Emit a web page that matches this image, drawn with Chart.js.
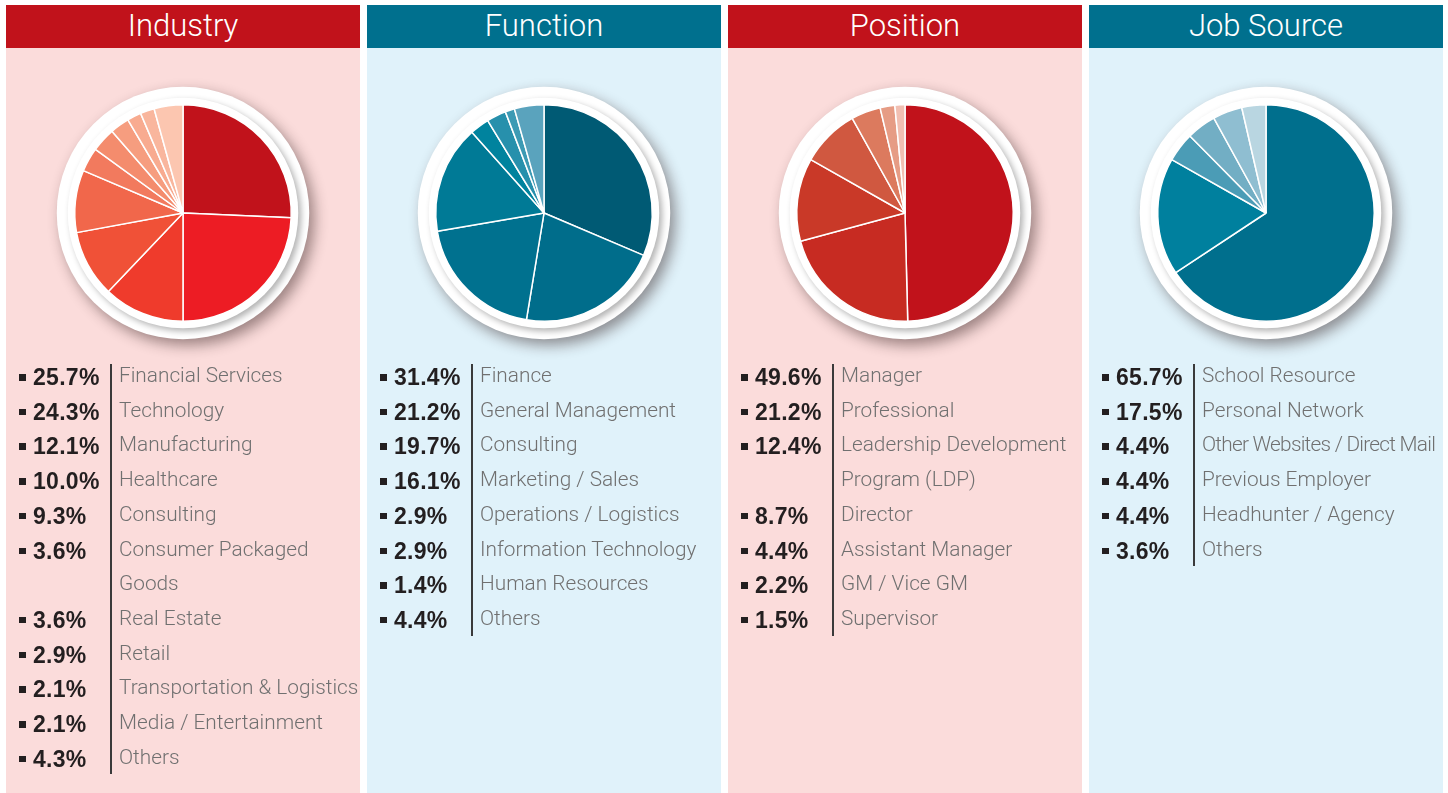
<!DOCTYPE html>
<html>
<head>
<meta charset="utf-8">
<script src="https://cdn.jsdelivr.net/npm/chart.js@4.4.0/dist/chart.umd.min.js"></script>
<style>
  body{margin:0;background:#fff;width:1448px;height:793px;overflow:hidden;font-family:"Liberation Sans",Arial,sans-serif}
  .panel{position:absolute;top:5px;width:354px;height:788px}
  .head{height:43px;line-height:42px;color:#fff;text-align:center;font-family:Roboto,"Liberation Sans",sans-serif;font-weight:300;font-size:31px}
  .body{position:absolute;top:43px;left:0;right:0;bottom:0}
  .body canvas{position:absolute;left:0;top:0}
  .list{position:absolute;top:310px;left:0;right:0}
  .list .rule{position:absolute;left:104px;top:6px;bottom:0;width:1.5px;background:#3a3a3a}
  .row{display:flex;line-height:34.7px}
  .pct{position:relative;width:104px;flex:none;box-sizing:border-box;padding-left:27px;font-weight:bold;font-size:23px;letter-spacing:0.3px;color:#231f20;top:2px}
  .pct::before{content:"";position:absolute;left:13px;top:14px;width:6.5px;height:6.5px;background:#231f20}
  .lab{padding-left:9px;font-family:Roboto,"Liberation Sans",sans-serif;font-weight:300;font-size:20.8px;color:#707070;max-width:250px;box-sizing:border-box}
  .red .head{background:#c1121b}
  .red .body{background:#fbdcdb}
  .blue .head{background:#00708e}
  .blue .body{background:#e0f2fa}
</style>
</head>
<body>
<div id="wrap"></div>
<script>
//------------------------------ dữ liệu ------------------------------//
var titles = ["Industry", "Function", "Position", "Job Source"];

var industryLabels = ["Financial Services", "Technology", "Manufacturing", "Healthcare", "Consulting",
                      "Consumer Packaged Goods", "Real Estate", "Retail", "Transportation & Logistics",
                      "Media / Entertainment", "Others"];
var industryValues = [25.7, 24.3, 12.1, 10.0, 9.3, 3.6, 3.6, 2.9, 2.1, 2.1, 4.3];
var industryColors = ["#c1121b", "#ed1c24", "#ef3b2c", "#f05137", "#f1674b", "#f27a5e",
                      "#f48c6d", "#f69d7f", "#f8ab90", "#f9b69d", "#fcc6b0"];

var functionLabels = ["Finance", "General Management", "Consulting", "Marketing / Sales",
                      "Operations / Logistics", "Information Technology", "Human Resources", "Others"];
var functionValues = [31.4, 21.2, 19.7, 16.1, 2.9, 2.9, 1.4, 4.4];
var functionColors = ["#005a74", "#006d8b", "#00718f", "#007a96", "#00839e", "#2790ac", "#3c9ab4", "#5aa3bd"];

var positionLabels = ["Manager", "Professional", "Leadership Development Program (LDP)", "Director",
                      "Assistant Manager", "GM / Vice GM", "Supervisor"];
var positionValues = [49.6, 21.2, 12.4, 8.7, 4.4, 2.2, 1.5];
var positionColors = ["#c1121b", "#c72b22", "#c93928", "#d05840", "#dc7a5e", "#e69c85", "#f1bfb2"];

var sourceLabels = ["School Resource", "Personal Network", "Other Websites / Direct Mail",
                    "Previous Employer", "Headhunter / Agency", "Others"];
var sourceValues = [65.7, 17.5, 4.4, 4.4, 4.4, 3.6];
var sourceColors = ["#006f8d", "#00809e", "#4b9cb6", "#72aec4", "#8fbed1", "#b9d6e1"];

var panelLefts = [6, 367, 728, 1089];
var themes = ["red", "blue", "red", "blue"];
// nhãn ép chữ cho vừa một dòng (các nhãn dài khác thì xuống dòng)
var squeezeLabels = ["Other Websites / Direct Mail"];

//------------------------------ vòng trắng quanh biểu đồ ------------------------------//
var ringPlugin = {
  id: "ring",
  beforeDatasetsDraw: function(chart){
    var arc = chart.getDatasetMeta(0).data[0];
    var ctx = chart.ctx, cx = arc.x, cy = arc.y, r = arc.outerRadius;
    ctx.save();
    ctx.fillStyle = "#fff";
    ctx.shadowColor = "rgba(40,20,20,0.45)";
    ctx.shadowBlur = 14;
    ctx.shadowOffsetX = 5;
    ctx.shadowOffsetY = 6;
    ctx.beginPath(); ctx.arc(cx, cy, r + 18, 0, Math.PI * 2); ctx.fill();
    ctx.shadowColor = "rgba(0,0,0,0.3)";
    ctx.shadowBlur = 6;
    ctx.shadowOffsetX = 3;
    ctx.shadowOffsetY = 3;
    ctx.beginPath(); ctx.arc(cx, cy, r + 7, 0, Math.PI * 2); ctx.fill();
    ctx.restore();
  }
};

//------------------------------ dựng từng cột ------------------------------//
function buildPanel(i, labels, values, colors){
  var panel = document.createElement("div");
  panel.className = "panel " + themes[i];
  panel.style.left = panelLefts[i] + "px";
  var rows = "";
  for (var k = 0; k < labels.length; k++){
    rows += `<div class="row"><div class="pct">${values[k].toFixed(1)}%</div><div class="lab">${labels[k]}</div></div>`;
  }
  panel.innerHTML = `<div class="head">${titles[i]}</div>
    <div class="body"><canvas id="pie${i}" width="354" height="330"></canvas>
    <div class="list"><div class="rule"></div>${rows}</div></div>`;
  document.getElementById("wrap").appendChild(panel);

  var labs = panel.querySelectorAll(".lab");
  for (var k = 0; k < labs.length; k++){
    var el = labs[k];
    if (squeezeLabels.indexOf(labels[k]) < 0) continue;
    el.style.whiteSpace = "nowrap";
    el.style.maxWidth = "none";
    var w = el.scrollWidth, room = 242;
    if (w > room){
      el.style.letterSpacing = (-(w - room) / el.textContent.length) + "px";
    }
  }

  new Chart("pie" + i, {
    type: "pie",
    data: {
      labels: labels,
      datasets: [{
        data: values,
        backgroundColor: colors,
        borderColor: "#fff",
        borderWidth: 1.5
      }]
    },
    options: {
      responsive: false,
      animation: false,
      layout: { padding: 56 },
      plugins: { legend: { display: false }, tooltip: { enabled: false } }
    },
    plugins: [ringPlugin]
  });
}

buildPanel(0, industryLabels, industryValues, industryColors);
buildPanel(1, functionLabels, functionValues, functionColors);
buildPanel(2, positionLabels, positionValues, positionColors);
buildPanel(3, sourceLabels, sourceValues, sourceColors);
</script>
</body>
</html>
